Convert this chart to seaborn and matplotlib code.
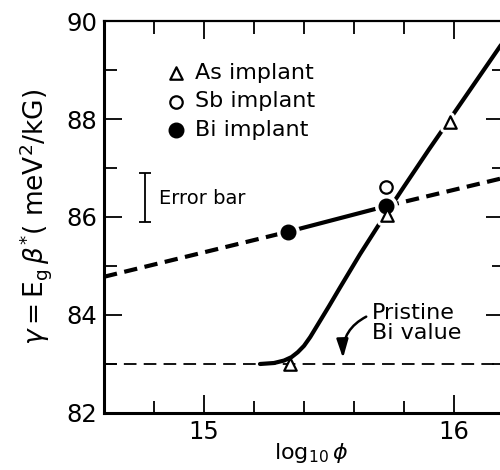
import matplotlib
matplotlib.use("Agg")
import matplotlib.pyplot as plt
import seaborn as sns
from matplotlib.ticker import MultipleLocator

sns.set_theme(style="ticks")
plt.rcParams['font.family'] = ['DejaVu Sans']
plt.rcParams['mathtext.fontset'] = 'dejavusans'
plt.rcParams['text.color'] = 'black'
plt.rcParams['axes.labelcolor'] = 'black'

# ---- data ----
as_x = [15.345, 15.732, 15.984]
as_y = [83.00, 86.04, 87.94]
sb_x = [15.727]
sb_y = [86.61]
bi_x = [15.337, 15.727]
bi_y = [85.70, 86.22]

# As fit curve (solid)
as_curve_x = [15.224, 15.280, 15.320, 15.350, 15.375, 15.400, 15.425, 15.450,
              15.500, 15.544, 15.624, 15.704, 15.800, 15.900, 15.984, 16.200]
as_curve_y = [83.00, 83.02, 83.07, 83.14, 83.24, 83.37, 83.55, 83.76,
              84.18, 84.56, 85.24, 85.88, 86.62, 87.38, 88.00, 89.60]

# Bi fit line: dashed - solid - dashed
bi_fit_x = [14.60, 15.337, 15.727, 16.20]
bi_fit_y = [84.78, 85.70, 86.22, 86.80]

# pristine Bi value
pristine_x = [14.60, 16.20]
pristine_y = [83.00, 83.00]

err_x, err_y, err_half = 14.764, 86.40, 0.50

x_ticks = [15, 16]
y_ticks = [82, 84, 86, 88, 90]

# ---- figure ----
fig = plt.figure(figsize=(5.0, 4.7), dpi=100)
ax = fig.add_axes([0.208, 0.1213, 0.8, 0.834])

K = 'black'
sns.lineplot(x=pristine_x, y=pristine_y, ax=ax, color=K, lw=1.3,
             linestyle=(0, (7, 4)), estimator=None, sort=False, zorder=2)
sns.lineplot(x=bi_fit_x[0:2], y=bi_fit_y[0:2], ax=ax, color=K, lw=3.0,
             linestyle=(0, (3.2, 1.8)), estimator=None, sort=False, zorder=3)
sns.lineplot(x=bi_fit_x[1:3], y=bi_fit_y[1:3], ax=ax, color=K, lw=3.0,
             estimator=None, sort=False, zorder=3)
sns.lineplot(x=bi_fit_x[2:4], y=bi_fit_y[2:4], ax=ax, color=K, lw=3.0,
             linestyle=(0, (3.2, 1.8)), estimator=None, sort=False, zorder=3)
sns.lineplot(x=as_curve_x, y=as_curve_y, ax=ax, color=K, lw=3.0,
             estimator=None, sort=False, zorder=3)

# white halos behind markers
sns.scatterplot(x=as_x[1:], y=as_y[1:], ax=ax, marker='^', s=80,
                color='white', edgecolor='white', linewidth=6, zorder=4)
sns.scatterplot(x=bi_x, y=bi_y, ax=ax, marker='o', s=110,
                color='white', edgecolor='white', linewidth=6, zorder=4)

# markers
sns.scatterplot(x=as_x, y=as_y, ax=ax, marker='^', s=80, color=K,
                facecolor='white', edgecolor=K, linewidth=1.6, zorder=6,
                label='As implant')
sns.scatterplot(x=sb_x, y=sb_y, ax=ax, marker='o', s=80, color=K,
                facecolor='white', edgecolor=K, linewidth=1.6, zorder=6,
                label='Sb implant')
sns.scatterplot(x=bi_x, y=bi_y, ax=ax, marker='o', s=110, color=K,
                facecolor=K, edgecolor=K, linewidth=1.0, zorder=5,
                label='Bi implant')

ax.legend(loc='upper left', bbox_to_anchor=(0.1525, 0.893), frameon=False,
          fontsize=16, handletextpad=0.35, labelspacing=0.38,
          handlelength=1.0, borderpad=0, borderaxespad=0)

# error bar
ax.errorbar([err_x], [err_y], yerr=[err_half], fmt='none', ecolor=K,
            elinewidth=1.3, capsize=4.3, capthick=1.3)
ax.text(14.822, 86.37, 'Error bar', fontsize=14, ha='left', va='center')

# annotation
ax.annotate('Pristine\nBi value', xy=(15.556, 83.12), xytext=(15.672, 83.84),
            ha='left', va='center', fontsize=16, linespacing=1.0,
            arrowprops=dict(arrowstyle='-|>,head_length=0.7,head_width=0.22',
                            color=K, lw=1.8, connectionstyle='arc3,rad=0.35',
                            relpos=(0.0, 0.72), shrinkA=2, shrinkB=0))

ax.set_xlim(14.6, 16.2)
ax.set_ylim(82, 90)
ax.set_xticks(x_ticks)
ax.set_yticks(y_ticks)
ax.xaxis.set_minor_locator(MultipleLocator(0.2))
ax.yaxis.set_minor_locator(MultipleLocator(1))
ax.tick_params(which='both', direction='in', top=True, right=True,
               color=K, labelcolor=K, labelsize=17.5, width=1.3)
ax.tick_params(which='major', length=13, pad=5)
ax.tick_params(which='minor', length=9)

for side in ['left', 'bottom']:
    ax.spines[side].set_linewidth(2.2)
for side in ['top', 'right']:
    ax.spines[side].set_linewidth(1.6)
for s in ax.spines.values():
    s.set_color(K)

ax.set_ylabel(r'$\gamma = \mathrm{E_g}\,\beta^{*}$( meV$^2$/kG)', fontsize=19)
ax.set_xlabel(r'log$_{10}\,\phi$', fontsize=16)
ax.yaxis.set_label_coords(-0.125, 0.5)
ax.xaxis.set_label_coords(0.518, -0.072)

fig.savefig('out.png', dpi=100)
